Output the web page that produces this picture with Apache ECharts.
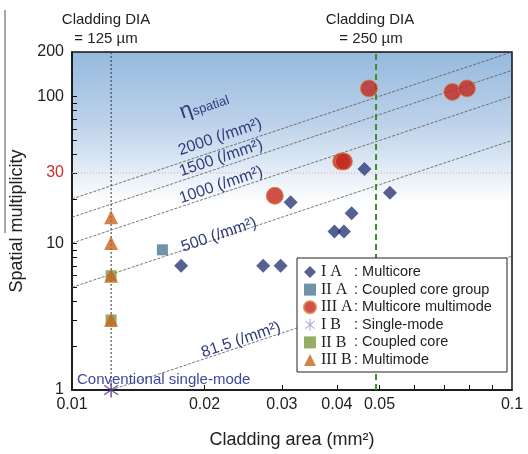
<!DOCTYPE html>
<html>
<head>
<meta charset="utf-8">
<script src="https://cdn.jsdelivr.net/npm/echarts@6/dist/echarts.min.js"></script>
<style>
  html, body { margin: 0; padding: 0; background: #fff; }
  #chart { width: 528px; height: 454px; }
</style>
</head>
<body>
<div id="chart"></div>
<script>
// Fibre categories: roman code + description
const seriesCodes = ['I A', 'II A', 'III A', 'I B', 'II B', 'III B'];
const seriesNames = ['Multicore', 'Coupled core group', 'Multicore multimode', 'Single-mode', 'Coupled core', 'Multimode'];

// Cladding area (mm^2) and spatial multiplicity for each category
const multicoreX = [0.0462, 0.0528, 0.0314, 0.0432, 0.0395, 0.0415, 0.0177, 0.0272, 0.0298];
const multicoreY = [32, 22, 19, 16, 12, 12, 7, 7, 7];
const coupledGroupX = [0.01605];
const coupledGroupY = [9];
const mcMultimodeX = [0.0473, 0.0732, 0.0790, 0.0409, 0.0415, 0.0289];
const mcMultimodeY = [113, 107, 113, 36, 36, 21];
const singleModeX = [0.01227];
const singleModeY = [1];
const coupledCoreX = [0.01227, 0.01227];
const coupledCoreY = [6, 3];
const multimodeX = [0.01227, 0.01227, 0.01227, 0.01227];
const multimodeY = [15, 10, 6, 3];

// Spatial density levels (cores per mm^2)
const etaLevels = [2000, 1500, 1000, 500, 81.5];
const etaLabels = ['2000 (/mm²)', '1500 (/mm²)', '1000 (/mm²)', '500 (/mm²)', '81.5 (/mm²)'];

// Cladding diameters (mm) marked by vertical lines
const claddingDia = [0.125, 0.25];

// Axis ticks / labels
const xLabelValues = [0.01, 0.02, 0.03, 0.04, 0.05, 0.1];
const xTickValues = [0.02, 0.03, 0.04, 0.05, 0.06, 0.07, 0.08, 0.09];
const yLabelValues = [1, 10, 30, 100, 200];
const yTickValues = [2, 3, 4, 5, 6, 7, 8, 9, 10, 20, 30, 40, 50, 60, 70, 80, 90, 100];

const zip = (xs, ys) => xs.map((x, i) => [x, ys[i]]);
const area = d => Math.PI * (d / 2) * (d / 2);

// six-spoke asterisk symbol
function asteriskPath() {
  const c = 10, r = 10, w = 0.9;
  let d = '';
  [90, 40, 140].forEach(a => {
    const t = a * Math.PI / 180;
    const dx = r * Math.cos(t), dy = -r * Math.sin(t);
    const nx = w * Math.sin(t), ny = w * Math.cos(t);
    const p = [[c + dx + nx, c + dy + ny], [c - dx + nx, c - dy + ny], [c - dx - nx, c - dy - ny], [c + dx - nx, c + dy - ny]];
    d += 'M' + p.map(q => q[0].toFixed(2) + ',' + q[1].toFixed(2)).join('L') + 'Z';
  });
  return 'path://' + d;
}
const starSymbol = asteriskPath();

const colors = {
  multicore: '#2a3878',
  coupledGroup: '#4a7896',
  mcMultimode: '#c3261c',
  singleMode: '#5b3f88',
  coupledCore: '#7b9a3c',
  multimode: '#c9631e'
};

const chart = echarts.init(document.getElementById('chart'), null, { renderer: 'canvas' });

const FONT = 'Liberation Sans, Arial, sans-serif';
const numFmt = v => String(+(+v).toPrecision(3));

// density lines y = eta * x, clipped to the plotting range
const etaSeries = etaLevels.map(eta => {
  const x0 = Math.max(0.01, 1 / eta);
  const x1 = Math.min(0.1, 200 / eta);
  return {
    type: 'line', silent: true, symbol: 'none', z: 2,
    data: [[x0, eta * x0], [x1, eta * x1]],
    lineStyle: { color: '#555', width: 0.8, type: [3, 1.5] }
  };
});

const option = {
  animation: false,
  grid: {
    left: 69, top: 52, width: 443, height: 343,
    show: true,
    borderColor: '#111', borderWidth: 1.5,
    backgroundColor: new echarts.graphic.LinearGradient(0, 0, 0, 1, [
      { offset: 0, color: '#95b9de' },
      { offset: 0.22, color: '#bed3ea' },
      { offset: 0.45, color: '#ffffff' },
      { offset: 1, color: '#ffffff' }
    ])
  },
  xAxis: {
    type: 'log', logBase: 10, min: 0.01, max: 0.1,
    name: 'Cladding area (mm²)', nameLocation: 'middle', nameGap: 41,
    nameTextStyle: { fontFamily: FONT, fontSize: 18, color: '#222' },
    axisLine: { show: true, lineStyle: { color: '#111', width: 1.5 } },
    axisTick: { show: true, inside: true, length: 5, customValues: xTickValues, lineStyle: { color: '#111' } },
    minorTick: { show: false },
    splitLine: { show: false },
    axisLabel: { customValues: xLabelValues, formatter: numFmt, fontFamily: FONT, fontSize: 16, color: '#222', margin: 7 }
  },
  yAxis: {
    type: 'log', logBase: 10, min: 1, max: 200,
    name: 'Spatial multiplicity', nameLocation: 'middle', nameGap: 46,
    nameTextStyle: { fontFamily: FONT, fontSize: 18, color: '#222' },
    axisLine: { show: true, lineStyle: { color: '#111', width: 1.5 } },
    axisTick: { show: true, inside: true, length: 5, customValues: yTickValues, lineStyle: { color: '#111' } },
    minorTick: { show: false },
    splitLine: { show: false },
    axisLabel: {
      customValues: yLabelValues, formatter: numFmt, fontFamily: FONT, fontSize: 16, margin: 8,
      color: v => (+v === 30 ? '#c8302a' : '#222')
    }
  },
  legend: {
    orient: 'vertical', left: 297, top: 258,
    backgroundColor: '#fff', borderColor: '#222', borderWidth: 1,
    padding: [6, 8, 4, 6],
    itemWidth: 12, itemHeight: 12, itemGap: 1.6,
    data: [
      { name: seriesNames[0], icon: 'diamond', itemStyle: { color: colors.multicore } },
      { name: seriesNames[1], icon: 'rect', itemStyle: { color: colors.coupledGroup } },
      { name: seriesNames[2], icon: 'circle', itemStyle: { color: colors.mcMultimode } },
      { name: seriesNames[3], icon: starSymbol, itemStyle: { color: '#9f92d0' } },
      { name: seriesNames[4], icon: 'rect', itemStyle: { color: colors.coupledCore } },
      { name: seriesNames[5], icon: 'triangle', itemStyle: { color: colors.multimode } }
    ],
    formatter: name => '{n|' + seriesCodes[seriesNames.indexOf(name)] + '}{t|: ' + name + '}',
    textStyle: {
      rich: {
        n: { fontFamily: 'Liberation Serif, DejaVu Serif, serif', fontSize: 16, width: 33, lineHeight: 18, color: '#222' },
        t: { fontFamily: FONT, fontSize: 14.5, width: 145, lineHeight: 18, color: '#222' }
      }
    }
  },
  series: [
    ...etaSeries,
    // 30-fold reference level
    {
      type: 'line', silent: true, symbol: 'none', z: 2,
      data: [[0.01, 30], [0.1, 30]],
      lineStyle: { color: '#eea0a0', width: 1, type: [1, 2] }
    },
    // cladding diameter 125 um
    {
      type: 'line', silent: true, symbol: 'none', z: 2,
      data: [[area(claddingDia[0]), 1], [area(claddingDia[0]), 200]],
      lineStyle: { color: '#333', width: 1, type: [2, 2] }
    },
    // cladding diameter 250 um
    {
      type: 'line', silent: true, symbol: 'none', z: 3,
      data: [[area(claddingDia[1]), 1], [area(claddingDia[1]), 200]],
      lineStyle: { color: '#3e8f2c', width: 2, type: [6, 4] }
    },
    {
      name: seriesNames[0], type: 'scatter', symbol: 'diamond', symbolSize: 14, z: 5, clip: false,
      data: zip(multicoreX, multicoreY), itemStyle: { color: colors.multicore }
    },
    {
      name: seriesNames[1], type: 'scatter', symbol: 'rect', symbolSize: 11, z: 5, clip: false,
      data: zip(coupledGroupX, coupledGroupY), itemStyle: { color: colors.coupledGroup }
    },
    {
      name: seriesNames[2], type: 'scatter', symbol: 'circle', symbolSize: 17, z: 5, clip: false,
      data: zip(mcMultimodeX, mcMultimodeY),
      itemStyle: { color: colors.mcMultimode, borderColor: '#d8803e', borderWidth: 1 }
    },
    {
      name: seriesNames[3], type: 'scatter', symbol: starSymbol, symbolSize: 15, z: 5, clip: false,
      data: zip(singleModeX, singleModeY), itemStyle: { color: colors.singleMode }
    },
    {
      name: seriesNames[4], type: 'scatter', symbol: 'rect', symbolSize: 11, z: 5, clip: false,
      data: zip(coupledCoreX, coupledCoreY), itemStyle: { color: colors.coupledCore }
    },
    {
      name: seriesNames[5], type: 'scatter', symbol: 'triangle', symbolSize: 14, z: 6, clip: false,
      data: zip(multimodeX, multimodeY), itemStyle: { color: colors.multimode }
    }
  ],
  graphic: [
    { type: 'line', shape: { x1: 5, y1: 10, x2: 5, y2: 233 }, style: { stroke: '#8a8a8a', lineWidth: 1.5 } },
    { type: 'text', x: 106, y: 20, style: { text: 'Cladding DIA', font: '15px ' + FONT, fill: '#222', align: 'center', verticalAlign: 'middle' } },
    { type: 'text', x: 106, y: 39, style: { text: '= 125 µm', font: '15px ' + FONT, fill: '#222', align: 'center', verticalAlign: 'middle' } },
    { type: 'text', x: 370, y: 20, style: { text: 'Cladding DIA', font: '15px ' + FONT, fill: '#222', align: 'center', verticalAlign: 'middle' } },
    { type: 'text', x: 371, y: 39, style: { text: '= 250 µm', font: '15px ' + FONT, fill: '#222', align: 'center', verticalAlign: 'middle' } },
    { type: 'text', x: 186, y: 111, rotation: 0.326, z: 10, style: { text: 'η', font: '22px ' + FONT, fill: '#2e3a7a', align: 'center', verticalAlign: 'middle' } },
    { type: 'text', x: 211, y: 106, rotation: 0.326, z: 10, style: { text: 'spatial', font: '13px ' + FONT, fill: '#2e3a7a', align: 'center', verticalAlign: 'middle' } },
    { type: 'text', x: 220, y: 137, rotation: 0.326, z: 10, style: { text: etaLabels[0], font: '16px ' + FONT, fill: '#2e3a7a', align: 'center', verticalAlign: 'middle' } },
    { type: 'text', x: 221, y: 158, rotation: 0.326, z: 10, style: { text: etaLabels[1], font: '16px ' + FONT, fill: '#2e3a7a', align: 'center', verticalAlign: 'middle' } },
    { type: 'text', x: 221, y: 185, rotation: 0.326, z: 10, style: { text: etaLabels[2], font: '16px ' + FONT, fill: '#2e3a7a', align: 'center', verticalAlign: 'middle' } },
    { type: 'text', x: 219, y: 235, rotation: 0.326, z: 10, style: { text: etaLabels[3], font: '16px ' + FONT, fill: '#2e3a7a', align: 'center', verticalAlign: 'middle' } },
    { type: 'text', x: 241, y: 340, rotation: 0.326, z: 10, style: { text: etaLabels[4], font: '16px ' + FONT, fill: '#2e3a7a', align: 'center', verticalAlign: 'middle' } },
    { type: 'text', x: 77, y: 380, z: 10, style: { text: 'Conventional single-mode', font: '15px ' + FONT, fill: '#3a4a9a', align: 'left', verticalAlign: 'middle' } }
  ]
};

chart.setOption(option);
</script>
</body>
</html>
